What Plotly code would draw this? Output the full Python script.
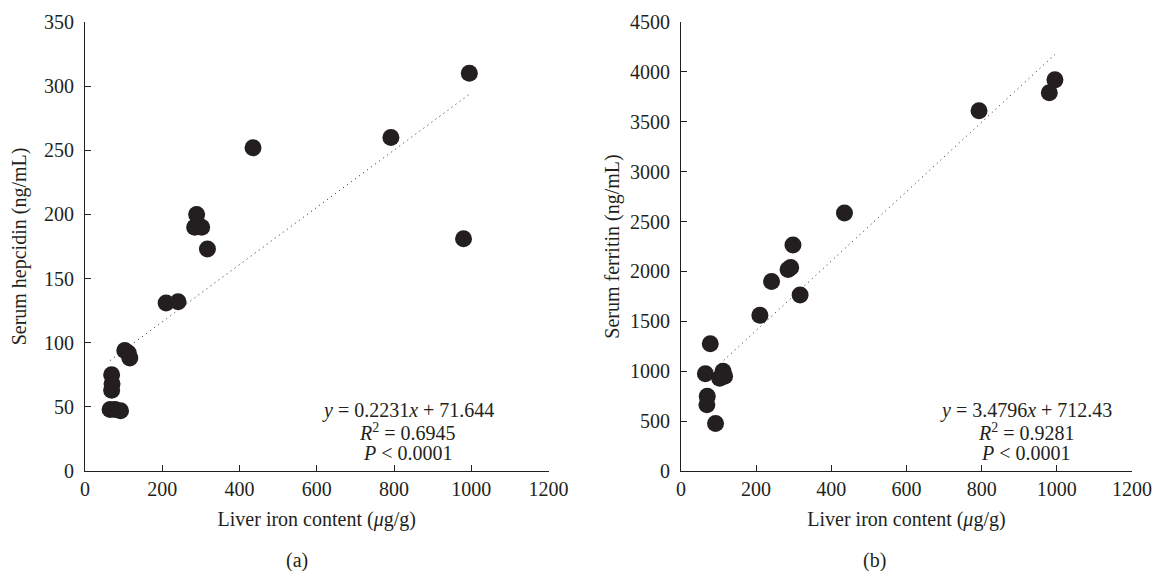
import plotly.graph_objects as go

# ---- data ----
lic_a = [995, 792, 980, 435, 289, 284, 302, 317, 210, 241, 103, 112, 116, 69, 70, 69, 65, 78, 92]
hepcidin = [310, 260, 181, 252, 200, 190, 190, 173, 131, 132, 94, 92, 88, 75, 68, 63, 48, 48, 47]

lic_b = [995, 980, 793, 435, 298, 285, 292, 241, 317, 210, 78, 65, 112, 103, 116, 70, 69, 92]
ferritin = [3920, 3790, 3610, 2585, 2265, 2020, 2040, 1900, 1765, 1560, 1275, 975, 1000, 930, 950, 750, 665, 475]

fit_a = (0.2231, 71.644)
fit_b = (3.4796, 712.43)

x_ticks = [0, 200, 400, 600, 800, 1000, 1200]
ya_ticks = [0, 50, 100, 150, 200, 250, 300, 350]
yb_ticks = [0, 500, 1000, 1500, 2000, 2500, 3000, 3500, 4000, 4500]

ann_a = ["<i>y</i> = 0.2231<i>x</i> + 71.644", "<i>R</i><sup>2</sup> = 0.6945", "<i>P</i> &lt; 0.0001"]
ann_b = ["<i>y</i> = 3.4796<i>x</i> + 712.43", "<i>R</i><sup>2</sup> = 0.9281", "<i>P</i> &lt; 0.0001"]

INK = "#231f20"
FONT = "Liberation Serif"
FS = 20

fig = go.Figure()

def add_panel(xs, ys, fit, xaxis, yaxis):
    fig.add_trace(go.Scatter(x=xs, y=ys, mode="markers", xaxis=xaxis, yaxis=yaxis,
                             marker=dict(size=17, color=INK, line=dict(width=0)),
                             cliponaxis=False, showlegend=False, hoverinfo="x+y"))
    x0, x1 = min(xs), max(xs)
    fig.add_trace(go.Scatter(x=[x0, x1], y=[fit[0] * x0 + fit[1], fit[0] * x1 + fit[1]],
                             mode="lines", xaxis=xaxis, yaxis=yaxis,
                             line=dict(color=INK, width=1, dash="1px,4px"),
                             showlegend=False, hoverinfo="skip"))

add_panel(lic_a, hepcidin, fit_a, "x", "y")
add_panel(lic_b, ferritin, fit_b, "x2", "y2")

axis_common = dict(showgrid=False, zeroline=False, showline=True, linecolor=INK, linewidth=1,
                   ticks="inside", ticklen=6, tickwidth=1, tickcolor=INK, automargin=False,
                   tickfont=dict(family=FONT, size=FS, color=INK), mirror=False)

xt = dict(text="Liver iron content (<i>μ</i>g/g)", font=dict(family=FONT, size=FS, color=INK), standoff=12)

fig.update_layout(
    width=1154, height=571,
    margin=dict(l=85, r=22, t=22, b=100),
    paper_bgcolor="white", plot_bgcolor="white",
    font=dict(family=FONT, color=INK),
    xaxis=dict(domain=[0, 0.4427], range=[0, 1200], tickvals=x_ticks, title=xt, anchor="y", **axis_common),
    yaxis=dict(range=[0, 350], tickvals=ya_ticks, anchor="x", ticklabelstandoff=6,
               title=dict(text="Serum hepcidin (ng/mL)", font=dict(family=FONT, size=FS, color=INK), standoff=12),
               **axis_common),
    xaxis2=dict(domain=[0.5692, 1.0], range=[0, 1200], tickvals=x_ticks, title=xt, anchor="y2", **axis_common),
    yaxis2=dict(range=[0, 4500], tickvals=yb_ticks, anchor="x2", ticklabelstandoff=6,
                title=dict(text="Serum ferritin (ng/mL)", font=dict(family=FONT, size=FS, color=INK), standoff=4),
                **axis_common),
)

line_y_a = [47.5, 30.6, 14.0]
line_y_b = [y / 350 * 4500 for y in line_y_a]
for txt, yy in zip(ann_a, line_y_a):
    fig.add_annotation(x=835, y=yy, xref="x", yref="y", text=txt, showarrow=False,
                       font=dict(family=FONT, size=FS, color=INK), xanchor="center", yanchor="middle")
for txt, yy in zip(ann_b, line_y_b):
    fig.add_annotation(x=918, y=yy, xref="x2", yref="y2", text=txt, showarrow=False,
                       font=dict(family=FONT, size=FS, color=INK), xanchor="center", yanchor="middle")

fig.add_annotation(x=(297 - 85) / 1047, y=(471 - 560) / 449, xref="paper", yref="paper", text="(a)",
                   showarrow=False, font=dict(family=FONT, size=FS, color=INK), xanchor="center", yanchor="middle")
fig.add_annotation(x=(874 - 85) / 1047, y=(471 - 560) / 449, xref="paper", yref="paper", text="(b)",
                   showarrow=False, font=dict(family=FONT, size=FS, color=INK), xanchor="center", yanchor="middle")

fig.write_html("out.html", config={"displayModeBar": False},
               post_script="document.body.style.margin='0px';document.body.style.overflow='hidden';")
